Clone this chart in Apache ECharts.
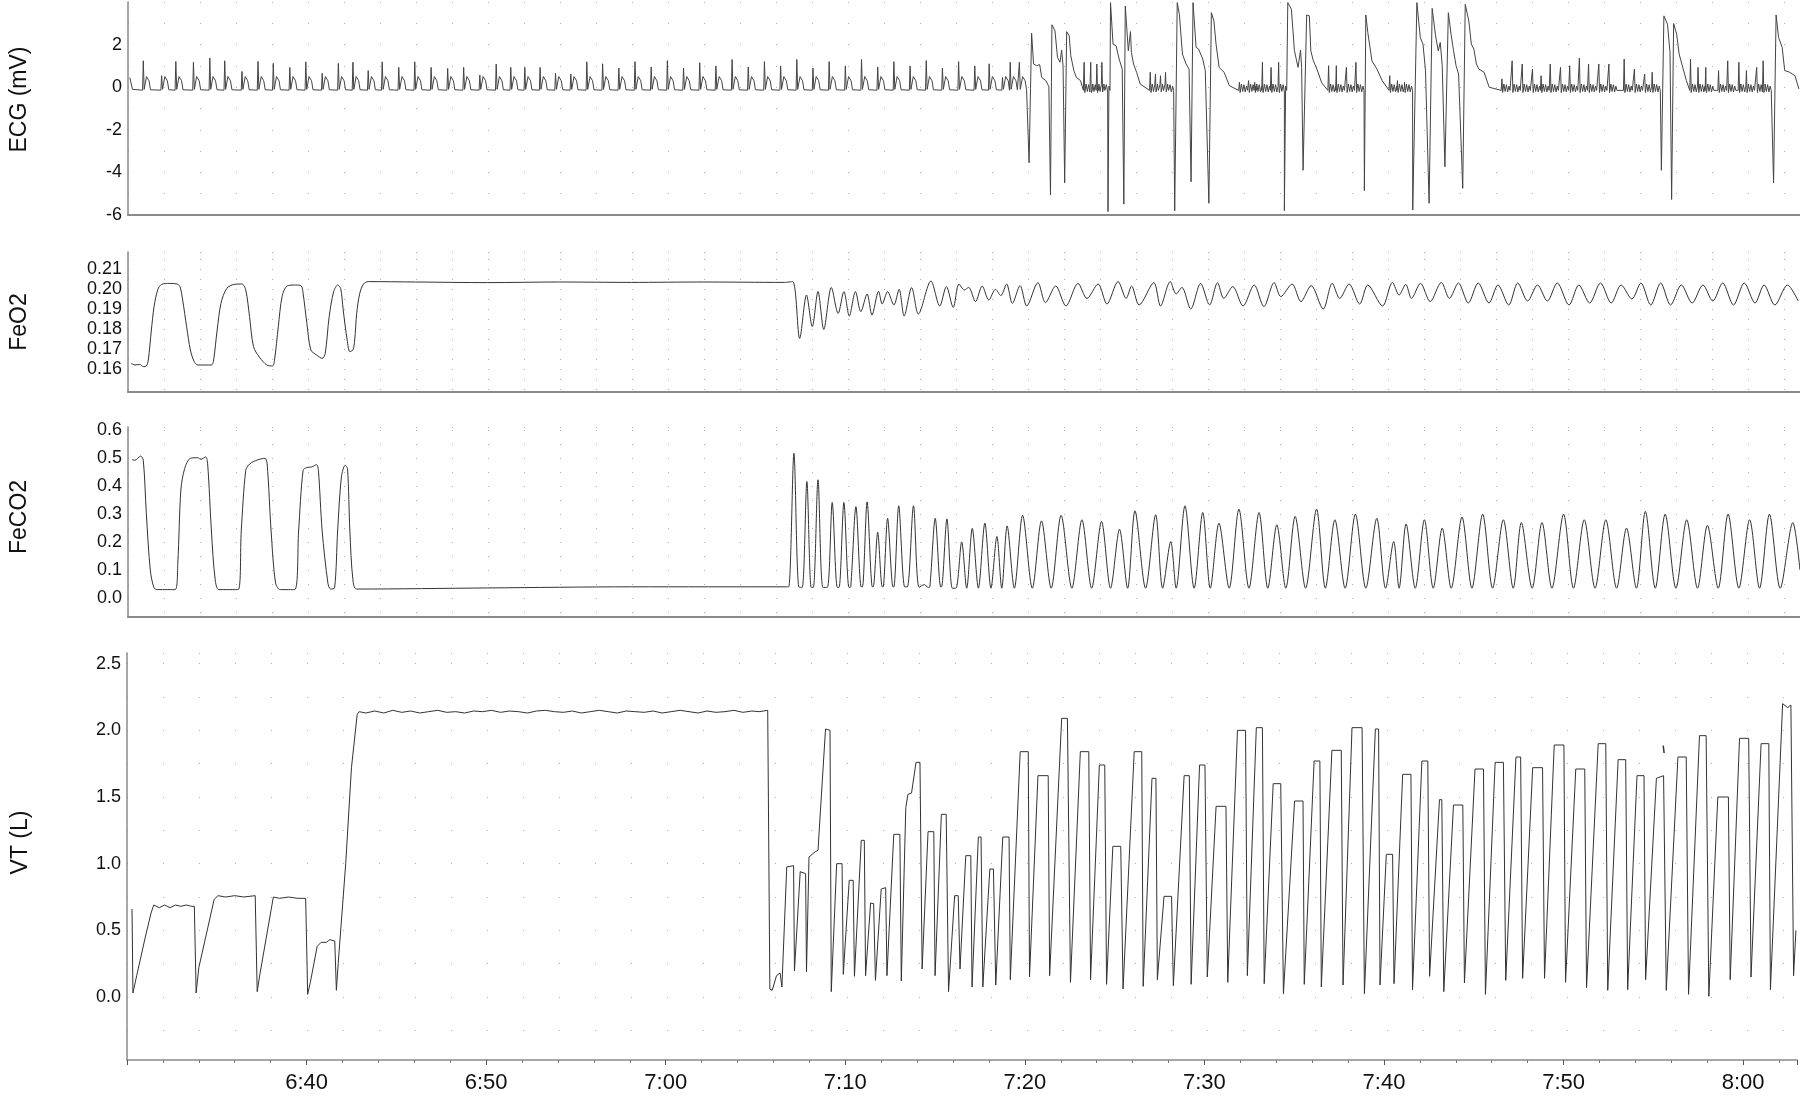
<!DOCTYPE html>
<html><head><meta charset="utf-8">
<script src="https://cdn.jsdelivr.net/npm/echarts@6/dist/echarts.min.js"></script>
<style>html,body{margin:0;padding:0;background:#fff}#c{width:1800px;height:1098px}</style>
</head><body><div id="c"></div>
<script>
// time axis in minutes after midnight (390 = 6:30)
const xTickValues = [400,410,420,430,440,450,460,470,480];
const xTickLabels = ['6:40','6:50','7:00','7:10','7:20','7:30','7:40','7:50','8:00'];
const ecgTickLabels = ['-6','-4','-2','0','2'];
const feo2TickLabels = ['0.16','0.17','0.18','0.19','0.20','0.21'];
const feco2TickLabels = ['0.0','0.1','0.2','0.3','0.4','0.5','0.6'];
const vtTickLabels = ['0.0','0.5','1.0','1.5','2.0','2.5'];
const panelNames = ['ECG (mV)','FeO2','FeCO2','VT (L)'];

// ECG: regular beats [time, R-peak mV]
const ecgBeatsEarly = [[390.85,1.24],[391.87,0.54],[392.66,1.21],[393.64,1.17],[394.55,1.37],[395.38,1.24],[396.34,0.74],[397.23,1.21],[398.08,1.12],[399.0,0.93],[399.89,1.19],[400.8,0.65],[401.7,1.12],[402.51,1.17],[403.36,0.78],[404.14,1.19],[405.06,0.93],[405.95,1.19],[406.86,0.93],[407.78,0.88],[408.67,0.93],[409.57,0.57],[410.48,1.09],[411.29,0.93],[412.07,0.93],[412.92,0.93],[413.78,0.65],[414.63,0.62],[415.52,1.19],[416.4,1.1],[417.3,0.9],[418.2,1.2],[419.1,0.95],[420.0,1.25],[420.9,0.9],[421.8,1.15],[422.7,1.0],[423.6,1.3],[424.5,0.95],[425.4,1.2],[426.3,1.0],[427.2,1.3],[428.1,0.9],[429.0,1.2],[429.9,1.0],[430.8,1.3],[431.7,0.95],[432.6,1.2],[433.5,1.0],[434.4,1.25],[435.3,0.9],[436.2,1.2],[437.1,1.0],[437.9,1.1],[438.64,0.46],[439.07,1.17],[439.58,1.17]];
const ecgBeatsLate = [[443.18,1.17],[443.55,1.17],[443.89,1.09],[444.17,1.17],[446.86,0.7],[447.15,0.62],[447.43,0.54],[447.71,0.7],[451.82,0.23],[452.33,0.31],[452.67,0.23],[453.1,1.17],[453.58,0.93],[454.0,1.17],[456.78,1.01],[457.21,1.01],[457.77,0.93],[458.3,1.17],[460.18,0.54],[460.61,0.31],[461.0,0.23],[466.42,0.39],[466.99,1.24],[467.55,1.09],[468.12,0.85],[468.6,0.54],[469.11,1.09],[469.68,0.93],[470.19,1.01],[470.73,1.37],[471.24,1.09],[471.81,1.09],[472.37,1.09],[473.22,1.32],[473.79,0.85],[474.36,0.62],[474.78,0.7],[476.91,1.32],[477.33,0.93],[477.76,0.93],[478.47,0.78],[478.98,1.24],[479.6,1.17],[480.02,0.78],[480.59,0.93],[480.95,1.24]];
// ECG: traced points (start, ectopic complexes, end) [time, mV]
const ecgTrace = [[390.1,0.45],[390.25,-0.1],
[440.03,-0.08],[440.12,-3.55],[440.2,-0.08],[440.26,2.54],[440.37,1.09],[440.54,1.01],[440.71,1.06],[440.82,0.46],[441.05,0.31],[441.22,0.03],[441.31,-5.06],[441.39,2.93],[441.56,2.65],[441.7,1.4],[441.84,1.17],[441.93,1.74],[442.01,1.01],[442.1,-4.49],[442.21,2.61],[442.35,2.41],[442.44,1.48],[442.61,0.78],[442.75,0.46],[442.98,0.31],
[444.62,-0.08],[444.51,-5.84],[444.65,3.97],[444.79,2.02],[444.96,1.94],[445.13,1.32],[445.3,0.85],[445.39,-5.49],[445.47,3.81],[445.64,1.71],[445.76,2.61],[445.81,1.63],[445.93,1.09],[446.1,0.7],[446.3,0.15],
[448.08,-0.08],[448.22,-5.8],[448.36,3.97],[448.48,3.42],[448.65,1.55],[448.85,1.09],[449.02,0.85],[449.13,-4.44],[449.24,3.97],[449.41,1.87],[449.55,1.79],[449.78,1.32],[449.92,0.78],[450.12,-5.45],[450.26,3.5],[450.4,3.11],[450.52,2.02],[450.69,0.93],[450.97,0.7],[451.26,0.07],
[454.5,-0.08],[454.32,-5.8],[454.51,3.97],[454.71,3.66],[454.88,1.71],[455.08,0.93],[455.22,1.74],[455.28,0.93],[455.36,-3.9],[455.56,3.39],[455.71,3.35],[455.79,1.71],[455.93,1.24],[456.13,0.85],[456.4,0.2],
[458.77,-4.86],[458.85,3.39],[458.96,2.57],[459.19,1.24],[459.47,0.85],[459.76,0.31],
[461.46,-5.77],[461.69,3.97],[461.88,2.33],[462.03,2.02],[462.17,0.78],[462.37,-5.45],[462.54,3.7],[462.73,2.41],[462.88,1.71],[462.99,2.1],[463.1,1.01],[463.25,-3.74],[463.44,3.5],[463.59,2.49],[463.73,1.71],[463.87,1.01],[464.01,0.62],[464.24,-4.75],[464.38,3.89],[464.58,3.11],[464.72,2.02],[464.86,1.79],[465.0,1.09],[465.14,0.85],[465.43,0.7],[465.71,0.0],
[475.29,-3.9],[475.43,3.35],[475.63,2.96],[475.77,1.63],[475.86,-5.27],[475.97,2.99],[476.14,2.49],[476.28,1.55],[476.48,0.93],[476.68,0.31],
[481.53,-4.49],[481.67,3.39],[481.81,2.33],[482.01,1.87],[482.15,0.78],[482.43,0.7],[482.72,0.54],[482.94,-0.08]];

const feo2 = [[390.17,0.1628],[390.39,0.162],[390.64,0.1623],[390.85,0.1612],[391.02,0.1615],[391.13,0.1645],[391.3,0.1795],[391.45,0.1912],[391.66,0.1998],[391.87,0.2023],[392.3,0.2028],[392.72,0.2025],[392.89,0.2012],[393.04,0.1945],[393.26,0.1812],[393.47,0.1695],[393.68,0.1637],[393.89,0.162],[394.64,0.162],[394.75,0.1637],[394.96,0.1795],[395.17,0.1928],[395.49,0.2003],[395.91,0.2023],[396.34,0.2025],[396.55,0.1995],[396.76,0.1862],[396.98,0.1712],[397.3,0.166],[397.72,0.162],[398.04,0.1615],[398.15,0.1645],[398.36,0.1812],[398.57,0.1962],[398.85,0.2015],[399.32,0.202],[399.64,0.2015],[399.74,0.1978],[399.95,0.1828],[400.17,0.1695],[400.49,0.167],[400.8,0.1653],[400.97,0.1678],[401.19,0.1862],[401.44,0.1987],[401.66,0.202],[401.83,0.2003],[401.97,0.1895],[402.19,0.1745],[402.34,0.1687],[402.51,0.1695],[402.61,0.1745],[402.72,0.1878],[402.89,0.1978],[403.1,0.2025],[403.36,0.2037],[406,0.2035],[410,0.2032],[414,0.2035],[418,0.2033],[422,0.2035],[426.5,0.2033],[426.97,0.2037],
[427.36,0.1753],[427.74,0.197],[428.06,0.1812],[428.38,0.1987],[428.7,0.1798],[429.12,0.2008],[429.5,0.1878],[429.82,0.1987],[430.12,0.1865],[430.46,0.1987],[430.76,0.1887],[431.11,0.1975],[431.38,0.187],[431.75,0.1988],[431.95,0.1925],[432.25,0.1987],[432.6,0.192],[432.89,0.1998],[433.17,0.1865],[433.59,0.2007],[433.96,0.1875],[434.66,0.204],[435.15,0.1915],[435.52,0.2012],[435.9,0.1908],[436.22,0.2025],[436.52,0.1995],[436.76,0.2008],[437.14,0.1937],[437.51,0.2015],[437.88,0.1945],[438.25,0.1998],[438.55,0.1967],[438.87,0.2025],[439.19,0.1928],[439.62,0.2017],[439.99,0.1915],[440.61,0.2032],[441.03,0.1932],[441.6,0.2015],[442.17,0.1915],[442.84,0.2028],[443.34,0.1953],[443.96,0.2025],[444.45,0.1925],[445.07,0.2037],[445.52,0.1953],[445.82,0.2015],[446.24,0.192],[447.06,0.2032],[447.43,0.1915],[447.97,0.2037],[448.3,0.1975],[448.62,0.2008],[449.11,0.19],[449.66,0.2028],[450.16,0.192],[450.6,0.2032],[450.95,0.1953],[451.45,0.2012],[452.02,0.1915],[452.64,0.202],[453.18,0.1912],[453.75,0.2032],[454.12,0.1962],[454.75,0.2025],[455.24,0.1937],[455.81,0.2017],[456.48,0.19],[456.98,0.2028],[457.4,0.1953],[457.92,0.2025],[458.51,0.1925],[458.96,0.202],[459.78,0.1915],[460.33,0.2033],[460.7,0.197],[461.07,0.2023],[461.39,0.1953],[461.89,0.2028],[462.43,0.1937],[463.05,0.2033],[463.5,0.1953],
[464.0,0.203],[464.55,0.193],[465.1,0.203],[465.7,0.193],[466.2,0.202],[466.8,0.192],[467.3,0.203],[467.85,0.194],[468.4,0.202],[468.95,0.194],[469.5,0.203],[470.15,0.192],[470.7,0.202],[471.3,0.193],[471.9,0.203],[472.5,0.193],[473.05,0.202],[473.65,0.195],[474.15,0.203],[474.7,0.192],[475.25,0.203],[475.8,0.192],[476.4,0.202],[477.0,0.193],[477.6,0.202],[478.15,0.194],[478.7,0.203],[479.3,0.192],[479.9,0.203],[480.5,0.193],[481.0,0.202],[481.6,0.192],[482.3,0.202],[482.9,0.194]];

const feco2 = [[390.22,0.495],[390.39,0.493],[390.7,0.508],[390.85,0.493],[391.02,0.302],[391.24,0.10],[391.45,0.036],[391.66,0.03],[392.62,0.03],[392.77,0.125],[392.94,0.386],[393.15,0.463],[393.47,0.50],[393.89,0.502],[394.04,0.496],[394.32,0.505],[394.43,0.48],[394.64,0.24],[394.85,0.065],[395.06,0.03],[396.13,0.03],[396.3,0.24],[396.55,0.457],[396.77,0.48],[397.19,0.494],[397.62,0.50],[397.74,0.48],[397.96,0.24],[398.21,0.053],[398.47,0.03],[399.27,0.03],[399.49,0.24],[399.74,0.457],[399.95,0.467],[400.21,0.469],[400.49,0.477],[400.59,0.457],[400.8,0.24],[401.12,0.053],[401.27,0.032],[401.49,0.036],[401.66,0.24],[401.87,0.433],[402.08,0.475],[402.21,0.463],[402.34,0.24],[402.51,0.065],[402.72,0.032],[410,0.036],[418,0.04],[426.6,0.04],
[426.75,0.04],[427.04,0.518],[427.3,0.04],[427.5,0.038],[427.76,0.417],[428.0,0.038],[428.12,0.038],[428.38,0.423],[428.65,0.038],[428.9,0.038],[429.17,0.342],[429.45,0.038],[429.55,0.038],[429.82,0.342],[430.1,0.038],[430.2,0.04],[430.49,0.327],[430.78,0.04],[430.85,0.04],[431.11,0.344],[431.4,0.04],[431.45,0.04],[431.7,0.235],[431.95,0.04],[432.0,0.04],[432.25,0.285],[432.55,0.04],[432.6,0.04],[432.87,0.33],[433.2,0.04],[433.35,0.04],[433.69,0.33],[434.0,0.038],[434.3,0.048],[434.5,0.038],[434.6,0.04],[434.9,0.285],[435.2,0.04],[435.25,0.04],[435.55,0.283],[435.85,0.035],[436.05,0.035],[436.37,0.201],[436.65,0.035],[436.96,0.249],[437.3,0.035],[437.66,0.268],[438.0,0.035],[438.33,0.22],[438.6,0.035],[438.9,0.258],[439.3,0.035],[439.76,0.296],[440.3,0.035],[440.81,0.276],[441.35,0.035],[441.9,0.296],[442.5,0.035],[443.06,0.28],[443.6,0.035],[444.15,0.274],[444.65,0.035],[445.15,0.246],[445.6,0.035],[446.01,0.312],[446.6,0.035],[447.16,0.298],[447.55,0.035],[448.0,0.202],[448.3,0.035],[448.79,0.33],[449.3,0.035],[449.78,0.306],[450.2,0.035],[450.68,0.268],[451.25,0.035],[451.79,0.318],[452.35,0.035],[452.91,0.306],[453.4,0.035],[453.9,0.262],[454.4,0.035],[454.92,0.292],[455.5,0.035],[456.11,0.318],[456.6,0.035],[457.13,0.28],[457.7,0.035],[458.27,0.3],[458.85,0.035],[459.46,0.285],[459.95,0.035],[460.4,0.202],[460.7,0.035],[461.09,0.265],[461.6,0.035],[462.11,0.28],[462.6,0.035],[463.1,0.25],[463.6,0.035],
[464.2,0.29],[464.75,0.035],[465.35,0.3],[465.9,0.035],[466.5,0.28],[467.05,0.035],[467.5,0.27],[468.1,0.035],[468.65,0.27],[469.2,0.035],[469.85,0.3],[470.4,0.035],[471.0,0.28],[471.6,0.035],[472.2,0.28],[472.8,0.035],[473.35,0.25],[473.9,0.035],[474.4,0.31],[474.95,0.035],[475.5,0.3],[476.1,0.035],[476.7,0.28],[477.3,0.035],[477.85,0.26],[478.45,0.035],[479.0,0.3],[479.6,0.035],[480.2,0.28],[480.75,0.035],[481.3,0.3],[481.9,0.035],[482.6,0.27],[483,0.1]];

const vt = [[390.28,0.66],[390.33,0.03],[390.54,0.16],[391.02,0.45],[391.34,0.63],[391.49,0.69],[391.8,0.67],[392.1,0.69],[392.4,0.67],[392.7,0.69],[393.0,0.68],[393.3,0.69],[393.6,0.68],[393.75,0.68],[393.85,0.03],[394.0,0.22],[394.85,0.73],[395.06,0.76],[395.5,0.75],[396.0,0.76],[396.5,0.75],[397.14,0.76],[397.25,0.04],[397.4,0.17],[398.15,0.75],[398.5,0.74],[399.0,0.75],[399.5,0.74],[399.95,0.74],[400.06,0.02],[400.21,0.11],[400.59,0.38],[400.81,0.41],[401.1,0.41],[401.3,0.43],[401.57,0.42],[401.66,0.05],[401.76,0.25],[402.18,1.0],[402.5,1.72],[402.82,2.12],[402.93,2.14],[403.3,2.13],[403.8,2.145],[404.3,2.13],[404.8,2.15],[405.3,2.135],[405.8,2.145],[406.3,2.13],[406.8,2.14],[407.3,2.15],[407.8,2.135],[408.3,2.14],[408.8,2.13],[409.3,2.145],[409.8,2.14],[410.3,2.15],[410.8,2.135],[411.3,2.145],[411.8,2.14],[412.3,2.13],[412.8,2.145],[413.3,2.15],[413.8,2.14],[414.3,2.135],[414.8,2.145],[415.3,2.13],[415.8,2.14],[416.3,2.15],[416.8,2.14],[417.3,2.13],[417.8,2.145],[418.3,2.14],[418.8,2.135],[419.3,2.145],[419.8,2.13],[420.3,2.14],[420.8,2.15],[421.3,2.14],[421.8,2.13],[422.3,2.145],[422.8,2.135],[423.3,2.14],[423.8,2.15],[424.3,2.135],[424.8,2.145],[425.2,2.14],[425.68,2.15],
[425.8,0.06],[425.93,0.05],[426.17,0.16],[426.37,0.18],[426.47,0.075],[426.74,0.975],[427.12,0.985],[427.17,0.195],[427.49,0.94],[427.79,0.925],[427.84,0.19],[427.98,1.05],[428.33,1.09],[428.48,1.1],[428.9,2.01],[429.15,2.0],[429.22,0.04],[429.52,1.0],[429.82,1.0],[429.89,0.17],[430.22,0.875],[430.44,0.875],[430.51,0.155],[430.89,1.175],[431.06,1.175],[431.13,0.16],[431.41,0.705],[431.58,0.7],[431.68,0.125],[432.0,0.81],[432.25,0.82],[432.32,0.16],[432.7,1.22],[433.04,1.22],[433.12,0.12],[433.37,1.42],[433.49,1.52],[433.69,1.53],[433.94,1.76],[434.16,1.76],[434.28,0.21],[434.61,1.24],[434.93,1.24],[435.0,0.16],[435.35,1.37],[435.62,1.37],[435.75,0.04],[436.09,0.76],[436.29,0.76],[436.39,0.21],[436.71,1.06],[436.99,1.06],[437.06,0.075],[437.41,1.2],[437.56,1.2],[437.66,0.075],[438.05,0.96],[438.25,0.96],[438.38,0.09],[438.77,1.2],[439.12,1.2],[439.19,0.13],[439.74,1.84],[440.19,1.84],[440.26,0.15],[440.73,1.66],[441.3,1.66],[441.38,0.16],[442.05,2.09],[442.37,2.09],[442.54,0.11],[443.09,1.84],[443.56,1.84],[443.66,0.13],[444.15,1.74],[444.45,1.74],[444.55,0.095],[444.9,1.13],[445.34,1.13],[445.47,0.06],[446.09,1.84],[446.51,1.84],[446.59,0.08],[447.08,1.64],[447.3,1.64],[447.38,0.13],[447.75,0.755],[448.17,0.755],[448.27,0.085],[448.87,1.66],[449.16,1.66],[449.26,0.095],[449.73,1.74],[450.03,1.74],[450.16,0.15],[450.65,1.43],[451.2,1.43],[451.3,0.11],[451.84,2.0],[452.29,2.0],[452.39,0.16],[452.89,2.02],[453.23,2.02],[453.33,0.1],[453.83,1.6],[454.25,1.6],[454.4,0.025],[455.02,1.47],[455.49,1.47],[455.56,0.095],[456.11,1.77],[456.43,1.77],[456.51,0.075],[457.1,1.85],[457.62,1.85],[457.72,0.09],
[458.22,2.02],[458.78,2.02],[458.91,0.025],[459.52,2.01],[459.7,2.01],[459.78,0.09],[460.13,1.07],[460.48,1.07],[460.56,0.1],[461.04,1.67],[461.5,1.67],[461.59,0.055],[462.11,1.77],[462.44,1.77],[462.54,0.155],[463.09,1.48],[463.22,1.48],[463.33,0.04],[463.87,1.44],[464.39,1.44],[464.48,0.105],[465.07,1.71],[465.54,1.71],[465.65,0.02],[466.19,1.76],[466.65,1.76],[466.78,0.125],[467.35,1.8],[467.61,1.8],[467.72,0.14],[468.28,1.72],[468.83,1.72],[468.94,0.14],[469.48,1.89],[470.02,1.89],[470.11,0.11],[470.68,1.71],[471.18,1.71],[471.28,0.07],[471.93,1.9],[472.35,1.9],[472.46,0.05],[473.04,1.78],[473.46,1.78],[473.57,0.055],[474.09,1.66],[474.48,1.66],[474.57,0.13],[475.17,1.64],[475.57,1.66],[475.72,0.05],[476.37,1.8],[476.83,1.8],[476.96,0.02],[477.57,1.96],[477.94,1.96],[478.09,0.005],[478.59,1.5],[479.18,1.5],[479.28,0.13],[479.8,1.94],[480.31,1.94],[480.44,0.15],[481.0,1.9],[481.43,1.9],[481.52,0.055],[482.2,2.2],[482.48,2.17],[482.66,2.19],[482.81,0.16],[482.94,0.5]];
// small stray pen mark in the VT panel
const vtMark = [[475.55,1.885],[475.64,1.885],[475.6,1.83]];

// ---------- build ----------
const FONT = '"Liberation Sans", Arial, sans-serif';
const INK = '#333';
// beat outlines (relative time, level); null = R peak
const earlyShape = [[-0.04,-0.14],[0,null],[0.05,-0.1],[0.12,-0.05],[0.18,0.5],[0.24,0.55],[0.32,0.3],[0.4,-0.12]];
const lateShape = [[-0.04,-0.15],[0,null],[0.04,-0.25],[0.11,0.15],[0.18,-0.2],[0.25,0.12],[0.32,-0.22],[0.39,0.05],[0.45,-0.15]];
const ecgPts = [];
ecgBeatsEarly.forEach(([t,r]) => earlyShape.forEach(([d,v]) => ecgPts.push([t+d, v===null?r:v])));
ecgBeatsLate.forEach(([t,r]) => lateShape.forEach(([d,v]) => ecgPts.push([t+d, v===null?r:v])));
ecgTrace.forEach(p => ecgPts.push(p));
ecgPts.sort((a,b)=>a[0]-b[0]);

const grids = [
  {left:127, top:2, width:1674, height:213},
  {left:127, top:252, width:1674, height:140},
  {left:127, top:427, width:1674, height:190},
  {left:127, top:653, width:1674, height:407}
];
function xAx(i){
  const bottom = i===3;
  return {gridIndex:i, type:'value', min:390, max:483, interval:10,
    axisLine:{show:true, onZero:false, lineStyle:{color:'#8a8a8a', width:bottom?1.5:2}},
    axisTick:{show:bottom, length:5, lineStyle:{color:'#555'}},
    minorTick:{show:bottom, splitNumber:5, length:3, lineStyle:{color:'#777'}},
    axisLabel:{show:bottom, color:'#111', fontSize:22, fontFamily:FONT, margin:12,
      formatter:v=>{const k=xTickValues.indexOf(Math.round(v)); return (k>=0 && Math.abs(v-Math.round(v))<1e-6)?xTickLabels[k]:'';}},
    splitLine:{show:false}
  };
}
function yAx(i, min, max, step, labels, fmt, gap, shiftUp){
  return {gridIndex:i, type:'value', min, max, minInterval:step, maxInterval:step,
    splitNumber:Math.round((max-min)/step),
    axisLine:{show:true, onZero:false, lineStyle:{color:'#8a8a8a', width:1.5}},
    axisTick:{show:false},
    axisLabel:{color:'#111', fontSize:18, fontFamily:FONT, margin:6,
      formatter:v=>{const s=fmt(v); return labels.includes(s)?s:'';}},
    splitLine:{show:true, lineStyle:{color:'#b0b0b0', width:1, type:[1,35]}},
    name:panelNames[i], nameLocation:'middle', nameGap:gap,
    nameTextStyle:{color:'#111', fontSize:23, fontFamily:FONT, padding:[0,0,0,shiftUp*2]}
  };
}
const isMult = (v,m)=>Math.abs(v*m-Math.round(v*m))<1e-6;
const option = {
  animation:false,
  backgroundColor:'#fff',
  grid:grids,
  xAxis:[0,1,2,3].map(xAx),
  yAxis:[
    yAx(0,-6,4,1,ecgTickLabels,v=>isMult(v,1)?String(Math.round(v)):'',97,9),
    yAx(1,0.1485,0.2185,0.005,feo2TickLabels,v=>isMult(v,100)?v.toFixed(2):'',97,0),
    yAx(2,-0.068,0.612,0.05,feco2TickLabels,v=>isMult(v,10)?v.toFixed(1):'',97,5),
    yAx(3,-0.4725,2.58,0.25,vtTickLabels,v=>isMult(v,2)?v.toFixed(1):'',95,14)
  ],
  series:[
    {type:'line', xAxisIndex:0, yAxisIndex:0, data:ecgPts, showSymbol:false, silent:true, lineStyle:{color:'#444', width:1}},
    {type:'line', xAxisIndex:1, yAxisIndex:1, data:feo2, showSymbol:false, silent:true, smooth:0.3, lineStyle:{color:INK, width:1}},
    {type:'line', xAxisIndex:2, yAxisIndex:2, data:feco2, showSymbol:false, silent:true, smooth:0.3, lineStyle:{color:INK, width:1}},
    {type:'line', xAxisIndex:3, yAxisIndex:3, data:vt, showSymbol:false, silent:true, lineStyle:{color:INK, width:1}},
    {type:'line', xAxisIndex:3, yAxisIndex:3, data:vtMark, showSymbol:false, silent:true, lineStyle:{color:INK, width:1.5}}
  ]
};
const chart = echarts.init(document.getElementById('c'), null, {renderer:'canvas'});
chart.setOption(option);
</script></body></html>
